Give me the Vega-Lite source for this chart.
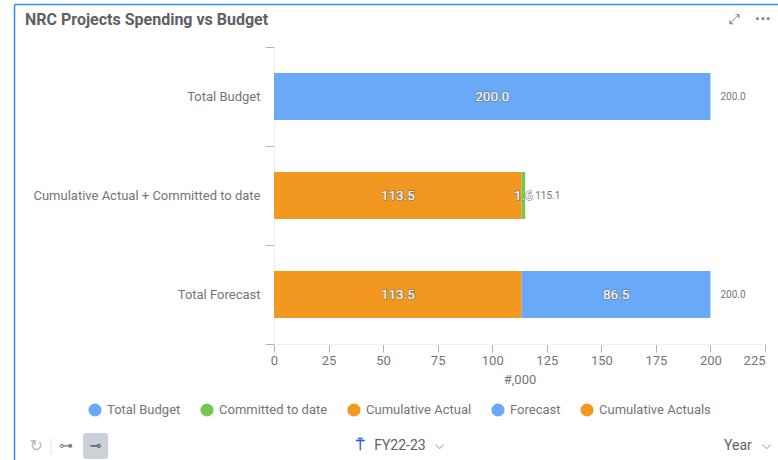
{
"$schema":"https://vega.github.io/schema/vega-lite/v6.json",
"width":491,"height":297,
"autosize":{"type":"none"},
"padding":{"left":274,"top":47,"right":13,"bottom":116},
"background":"white",
"title":{"text":"NRC Projects Spending vs Budget","anchor":"start","frame":"group","dx":-249,"offset":-24,"font":"Roboto","fontSize":16,"fontWeight":"bold","color":"#5f6062"},
"config":{"view":{"stroke":null},"font":"Roboto",
 "axisX":{"grid":false,"tickSize":8,"tickColor":"#b5b5b5","domainColor":"#f0f0f0","labelPadding":2,"labelFont":"Roboto","labelFontSize":13,"labelColor":"#757575","labelAlign":{"expr":"datum.value==225?'right':'center'"},"titleFont":"Roboto","titleFontSize":13,"titleFontWeight":"normal","titleColor":"#757575","titlePadding":6},
 "axisY":{"tickBand":"extent","tickSize":9,"tickColor":"#b5b5b5","domainColor":"#f0f0f0","labelPadding":5,"labelFont":"Roboto","labelFontSize":13,"labelColor":"#757575","labelLimit":260,"grid":false}},
"data":{"values":[
{"category":"Total Budget","series":"Total Budget","seq":1,"value":200.0},
{"category":"Cumulative Actual + Committed to date","series":"Cumulative Actual","seq":1,"value":113.5},
{"category":"Cumulative Actual + Committed to date","series":"Committed to date","seq":2,"value":1.6},
{"category":"Total Forecast","series":"Cumulative Actuals","seq":1,"value":113.5},
{"category":"Total Forecast","series":"Forecast","seq":2,"value":86.5}
]},
"layer":[
{"mark":{"type":"bar","height":{"band":0.475}},
 "encoding":{
  "y":{"field":"category","type":"nominal","title":null,
   "scale":{"domain":["Total Budget","Cumulative Actual + Committed to date","Total Forecast"],"paddingInner":0,"paddingOuter":0}},
  "x":{"field":"value","type":"quantitative","stack":"zero","title":"#,000","scale":{"domain":[0,225],"nice":false},"axis":{"values":[0,25,50,75,100,125,150,175,200,225]}},
  "order":{"field":"seq","type":"quantitative"},
  "color":{"field":"series","type":"nominal",
   "scale":{"domain":["Total Budget","Committed to date","Cumulative Actual","Forecast","Cumulative Actuals"],"range":["#6aa8f8","#76c74b","#f2971f","#6aa8f8","#f2971f"]},
   "legend":{"title":null,"orient":"none","direction":"horizontal","legendX":-186,"legendY":356,"symbolType":"circle","symbolSize":170,"symbolStrokeWidth":0,"symbolOpacity":1,"labelFont":"Roboto","labelFontSize":13,"labelColor":"#757575","labelOffset":5,"columnPadding":19,"labelLimit":200}}
 }},
{"mark":{"type":"text","fontSize":13.5,"font":"Roboto","fill":"white","stroke":"#6e6e6e","strokeWidth":1.6,"strokeOpacity":0.7},
 "encoding":{
  "y":{"field":"category","type":"nominal","title":null},
  "x":{"field":"value","type":"quantitative","stack":"zero","bandPosition":0.5,"title":"#,000"},
  "detail":{"field":"series"},
  "order":{"field":"seq","type":"quantitative"},
  "text":{"field":"value","type":"quantitative","format":".1f"}
 }},
{"mark":{"type":"text","fontSize":13.5,"font":"Roboto","fill":"white"},
 "encoding":{
  "y":{"field":"category","type":"nominal","title":null},
  "x":{"field":"value","type":"quantitative","stack":"zero","bandPosition":0.5,"title":"#,000"},
  "detail":{"field":"series"},
  "order":{"field":"seq","type":"quantitative"},
  "text":{"field":"value","type":"quantitative","format":".1f"}
 }},
{"transform":[{"aggregate":[{"op":"sum","field":"value","as":"total"}],"groupby":["category"]}],
 "mark":{"type":"text","align":"left","dx":10,"fontSize":10,"font":"Roboto","color":"#757575"},
 "encoding":{
  "y":{"field":"category","type":"nominal","title":null},
  "x":{"field":"total","type":"quantitative","title":"#,000"},
  "text":{"field":"total","type":"quantitative","format":".1f"}
 }},
{"data":{"values":[{}]},"mark":{"type":"rule","color":"#2f8ef0","strokeWidth":1.5},
 "encoding":{"x":{"datum":-118.9,"type":"quantitative","title":"#,000"},"x2":{"datum":231},"y":{"value":-42.5}}},
{"data":{"values":[{}]},"mark":{"type":"rule","color":"#2f8ef0","strokeWidth":1.5},
 "encoding":{"x":{"datum":-118.9,"type":"quantitative","title":"#,000"},"y":{"value":-42.5},"y2":{"value":413}}},
{"data":{"values":[{}]},"mark":{"type":"rect","color":"#ccd1d9","cornerRadius":3},
 "encoding":{"x":{"datum":-87.5,"type":"quantitative","title":"#,000"},"x2":{"datum":-76},"y":{"value":386},"y2":{"value":412}}},
{"data":{"values":[{}]},"mark":{"type":"rule","color":"#e4e4e4"},
 "encoding":{"x":{"datum":-102.2,"type":"quantitative","title":"#,000"},"y":{"value":391},"y2":{"value":407}}},
{"data":{"values":[{"label":"FY22-23"}]},"mark":{"type":"text","font":"Roboto","fontSize":14,"color":"#5f6062","dy":151},
 "encoding":{"x":{"datum":57.7,"type":"quantitative","title":"#,000"},"y":{"datum":"Total Forecast","type":"nominal","title":null},"text":{"field":"label"}}},
{"data":{"values":[{"label":"Year"}]},"mark":{"type":"text","font":"Roboto","fontSize":14,"color":"#5f6062","dy":151},
 "encoding":{"x":{"datum":212.6,"type":"quantitative","title":"#,000"},"y":{"datum":"Total Forecast","type":"nominal","title":null},"text":{"field":"label"}}},
{"data":{"values":[{"label":"⌵"}]},"mark":{"type":"text","font":"DejaVu Sans","fontSize":12,"color":"#7d828b","dy":150},
 "encoding":{"x":{"datum":76,"type":"quantitative","title":"#,000"},"y":{"datum":"Total Forecast","type":"nominal","title":null},"text":{"field":"label"}}},
{"data":{"values":[{"label":"⌵"}]},"mark":{"type":"text","font":"DejaVu Sans","fontSize":12,"color":"#7d828b","dy":150},
 "encoding":{"x":{"datum":225.5,"type":"quantitative","title":"#,000"},"y":{"datum":"Total Forecast","type":"nominal","title":null},"text":{"field":"label"}}},
{"data":{"values":[{"label":"⍑"}]},"mark":{"type":"text","font":"DejaVu Sans","fontSize":14,"fontWeight":"bold","color":"#1565c0","dy":151},
 "encoding":{"x":{"datum":39.4,"type":"quantitative","title":"#,000"},"y":{"datum":"Total Forecast","type":"nominal","title":null},"text":{"field":"label"}}},
{"data":{"values":[{"label":"↻"}]},"mark":{"type":"text","font":"DejaVu Sans","fontSize":16,"color":"#b5bac2","dy":151},
 "encoding":{"x":{"datum":-109,"type":"quantitative","title":"#,000"},"y":{"datum":"Total Forecast","type":"nominal","title":null},"text":{"field":"label"}}},
{"data":{"values":[{"label":"⊶"}]},"mark":{"type":"text","font":"DejaVu Sans","fontSize":14,"color":"#7d828b","dy":151},
 "encoding":{"x":{"datum":-95.3,"type":"quantitative","title":"#,000"},"y":{"datum":"Total Forecast","type":"nominal","title":null},"text":{"field":"label"}}},
{"data":{"values":[{"label":"⊸"}]},"mark":{"type":"text","font":"DejaVu Sans","fontSize":14,"color":"#4a4f57","dy":151},
 "encoding":{"x":{"datum":-81.8,"type":"quantitative","title":"#,000"},"y":{"datum":"Total Forecast","type":"nominal","title":null},"text":{"field":"label"}}},
{"data":{"values":[{"label":"⤢"}]},"mark":{"type":"text","font":"DejaVu Sans","fontSize":14,"color":"#7d828b","dy":-76.5},
 "encoding":{"x":{"datum":210.8,"type":"quantitative","title":"#,000"},"y":{"datum":"Total Budget","type":"nominal","title":null},"text":{"field":"label"}}},
{"data":{"values":[{"label":"···"}]},"mark":{"type":"text","font":"DejaVu Sans","fontSize":14,"fontWeight":"bold","color":"#7d828b","dy":-76.5},
 "encoding":{"x":{"datum":224,"type":"quantitative","title":"#,000"},"y":{"datum":"Total Budget","type":"nominal","title":null},"text":{"field":"label"}}}
]
}
